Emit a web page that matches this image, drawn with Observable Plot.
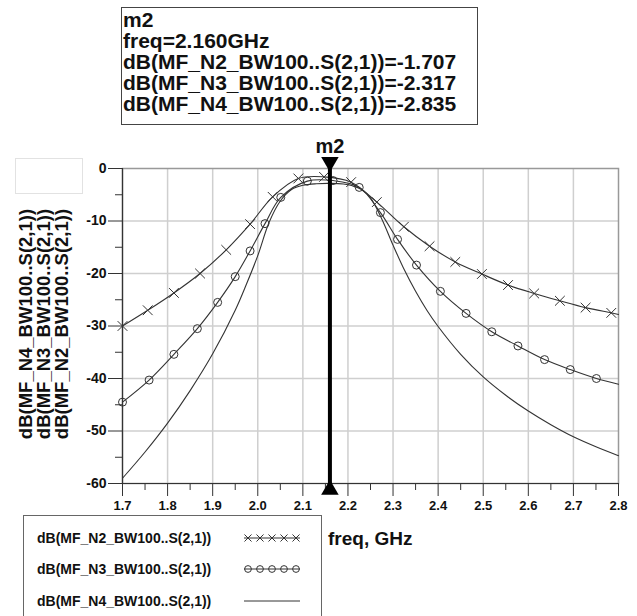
<!DOCTYPE html>
<html>
<head>
<meta charset="utf-8">
<script src="https://cdn.jsdelivr.net/npm/d3@7"></script>
<script src="https://cdn.jsdelivr.net/npm/@observablehq/plot@0.6"></script>
<style>
  html, body { margin: 0; padding: 0; background: #fff; }
  #wrap { position: relative; width: 637px; height: 616px; overflow: hidden; font-family: "Liberation Sans", Arial, sans-serif; font-weight: bold; color: #111; }
  #chart { position: absolute; left: 0; top: 0; }
  svg text { font-family: "Liberation Sans", Arial, sans-serif !important; font-weight: 700 !important; fill: #111; }
  .abs { position: absolute; }
  #info { left: 121px; top: 7px; width: 357px; height: 118px; box-sizing: border-box; border: 1px solid #444; font-size: 21px; line-height: 21px; padding: 1px 0 0 1px; white-space: nowrap; }
  #ghost { left: 15px; top: 158px; width: 68px; height: 36px; box-sizing: border-box; border: 1px solid #e2e2e2; }
  #ylab { left: -76px; top: 297px; width: 240px; height: 54px; font-size: 18.5px; line-height: 18px; text-align: center; transform: rotate(-90deg); white-space: nowrap; }
  #legend { left: 23px; top: 515px; width: 299px; height: 130px; box-sizing: border-box; border: 1px solid #666; }
  .lrow { position: absolute; left: 13px; font-size: 14px; line-height: 16px; white-space: nowrap; }
  .lsw { position: absolute; left: 218px; }
  #xlab { left: 328px; top: 528px; font-size: 19px; white-space: nowrap; }
</style>
</head>
<body>
<div id="wrap"></div>
<script>
// ---------- data ----------
const seriesNames = ["dB(MF_N2_BW100..S(2,1))", "dB(MF_N3_BW100..S(2,1))", "dB(MF_N4_BW100..S(2,1))"];

const n2Freq = [1.700, 1.756, 1.814, 1.872, 1.930, 1.983, 2.033, 2.090, 2.147, 2.207, 2.264, 2.324, 2.381, 2.438, 2.497, 2.555, 2.613, 2.670, 2.727, 2.784, 2.800];
const n2dB   = [-30.0, -27.0, -23.7, -20.0, -15.5, -10.6, -5.4, -1.9, -1.6, -2.6, -6.4, -11.1, -14.8, -17.8, -20.1, -22.2, -23.8, -25.2, -26.5, -27.5, -27.8];

const n3Freq = [1.700, 1.759, 1.814, 1.866, 1.911, 1.950, 1.983, 2.016, 2.051, 2.110, 2.167, 2.225, 2.272, 2.310, 2.352, 2.405, 2.462, 2.519, 2.577, 2.636, 2.693, 2.751, 2.800];
const n3dB   = [-44.5, -40.3, -35.4, -30.5, -25.5, -20.6, -15.7, -10.5, -5.5, -2.4, -2.3, -3.6, -8.4, -13.5, -18.4, -23.4, -27.6, -31.1, -33.8, -36.4, -38.3, -40.0, -41.1];

const n4Freq = [1.70, 1.75, 1.80, 1.85, 1.90, 1.95, 1.975, 2.00, 2.025, 2.05, 2.075, 2.10, 2.13, 2.16, 2.19, 2.21, 2.23, 2.25, 2.275, 2.30, 2.325, 2.35, 2.375, 2.40, 2.45, 2.50, 2.55, 2.60, 2.65, 2.70, 2.75, 2.80];
const n4dB   = [-59.0, -54.0, -48.5, -42.3, -35.3, -27.0, -22.0, -16.6, -10.3, -6.2, -4.0, -3.2, -2.9, -2.835, -2.95, -3.3, -4.0, -5.6, -9.6, -14.6, -19.3, -23.4, -27.0, -30.1, -35.4, -39.7, -43.2, -46.2, -48.8, -51.1, -53.0, -54.7];

const markerName = "m2";
const markerFreq = 2.160;
const markerValues = ["-1.707", "-2.317", "-2.835"];

const xTicks = [1.7, 1.8, 1.9, 2.0, 2.1, 2.2, 2.3, 2.4, 2.5, 2.6, 2.7, 2.8];
const xMinor = [1.75, 1.85, 1.95, 2.05, 2.15, 2.25, 2.35, 2.45, 2.55, 2.65, 2.75];
const yTicks = [0, -10, -20, -30, -40, -50, -60];
const yMinor = [-5, -15, -25, -35, -45, -55];
const xLabel = "freq, GHz";

// ---------- build ----------
const toRows = (fs, vs, s) => fs.map((f, i) => ({f, v: vs[i], s}));
const n2 = toRows(n2Freq, n2dB, seriesNames[0]);
const n3 = toRows(n3Freq, n3dB, seriesNames[1]);
const n4 = toRows(n4Freq, n4dB, seriesNames[2]);
const n2Marks = n2.slice(0, -1);
const n3Marks = n3.slice(0, -1);

const ink = "#333";
const gridColor = "#cfcfcf";

const chart = Plot.plot({
  width: 637,
  height: 616,
  marginLeft: 122,
  marginRight: 19,
  marginTop: 168,
  marginBottom: 133,
  x: {domain: [1.7, 2.8], label: null},
  y: {domain: [-60, 0], label: null},
  style: {fontFamily: "'Liberation Sans', Arial, sans-serif", color: "#111", background: "transparent", overflow: "visible"},
  marks: [
    Plot.gridX(xTicks.slice(1, -1), {stroke: gridColor, strokeOpacity: 1, strokeWidth: 1.5}),
    Plot.gridY(yTicks.slice(1, -1), {stroke: gridColor, strokeOpacity: 1, strokeWidth: 1.5}),
    Plot.frame({stroke: "#999", strokeWidth: 1.5}),
    Plot.axisY(yMinor, {tickSize: 7, tickFormat: () => "", stroke: "#333", label: null}),
    Plot.axisY(yTicks, {tickSize: 14, tickPadding: 2, tickFormat: d => String(d), fontSize: 14, fontWeight: "bold", stroke: "#333", label: null}),
    Plot.axisX(xMinor, {tickSize: 7, tickFormat: () => "", stroke: "#333", label: null}),
    Plot.axisX(xTicks, {tickSize: 13, tickPadding: 4, tickFormat: d3.format(".1f"), fontSize: 13, fontWeight: "bold", stroke: "#333", label: null}),
    Plot.ruleX([1.7], {stroke: "#333", strokeWidth: 1.2}),
    Plot.ruleY([-60], {stroke: "#333", strokeWidth: 1.2}),
    Plot.line(n4, {x: "f", y: "v", stroke: ink, strokeWidth: 1.1, curve: "catmull-rom"}),
    Plot.line(n3, {x: "f", y: "v", stroke: ink, strokeWidth: 1.1, curve: "catmull-rom"}),
    Plot.line(n2, {x: "f", y: "v", stroke: ink, strokeWidth: 1.1, curve: "catmull-rom"}),
    Plot.dot(n3Marks, {x: "f", y: "v", symbol: "circle", r: 4, stroke: ink, strokeWidth: 1, fill: "none"}),
    Plot.dot(n2Marks, {x: "f", y: "v", symbol: "times", r: 4.5, stroke: ink, strokeWidth: 1}),
    Plot.ruleX([markerFreq], {x: d => d, y1: 2, y2: -62, stroke: "#000", strokeWidth: 4}),
    Plot.dot([markerFreq], {x: d => d, y: 1.25, symbol: "triangle", r: 6.5, fill: "#000", stroke: "none", rotate: 180}),
    Plot.dot([markerFreq], {x: d => d, y: -61.2, symbol: "triangle", r: 6.5, fill: "#000", stroke: "none"}),
    Plot.text([markerName], {x: () => markerFreq, y: 4.2, text: d => d, fontSize: 20, fontWeight: "bold", fill: "#111"})
  ]
});

const wrap = document.getElementById("wrap");
chart.id = "chart";
wrap.appendChild(chart);

// marker readout box
const info = document.createElement("div");
info.id = "info"; info.className = "abs";
info.innerHTML = [markerName, `freq=${markerFreq.toFixed(3)}GHz`]
  .concat(seriesNames.map((n, i) => `${n}=${markerValues[i]}`))
  .map(t => `<div>${t}</div>`).join("");
wrap.appendChild(info);

// faint empty box at top-left
const ghost = document.createElement("div");
ghost.id = "ghost"; ghost.className = "abs";
wrap.appendChild(ghost);

// y label (three stacked rotated lines)
const ylab = document.createElement("div");
ylab.id = "ylab"; ylab.className = "abs";
ylab.innerHTML = seriesNames.slice().reverse().map(t => `<div>${t}</div>`).join("");
wrap.appendChild(ylab);

// x label
const xl = document.createElement("div");
xl.id = "xlab"; xl.className = "abs";
xl.textContent = xLabel;
wrap.appendChild(xl);

// legend
const legend = document.createElement("div");
legend.id = "legend"; legend.className = "abs";
wrap.appendChild(legend);
const rowCenters = [22, 53, 85];
const symbols = [d3.symbolTimes, d3.symbolCircle, null];
seriesNames.forEach((name, i) => {
  const r = document.createElement("div");
  r.className = "lrow";
  r.style.top = (rowCenters[i] - 8) + "px";
  r.textContent = name;
  legend.appendChild(r);
  const sw = d3.create("svg").attr("class", "lsw").attr("width", 62).attr("height", 12)
    .style("top", (rowCenters[i] - 6) + "px");
  sw.append("line").attr("x1", 2).attr("x2", 58).attr("y1", 6).attr("y2", 6)
    .attr("stroke", ink).attr("stroke-width", 1);
  if (symbols[i]) {
    const sym = d3.symbol(symbols[i], symbols[i] === d3.symbolCircle ? 36 : 34);
    d3.range(5).forEach(k => {
      sw.append("path").attr("d", sym()).attr("transform", `translate(${6 + k * 12},6)`)
        .attr("fill", "none").attr("stroke", ink).attr("stroke-width", 1);
    });
  }
  legend.appendChild(sw.node());
});
</script>
</body>
</html>
